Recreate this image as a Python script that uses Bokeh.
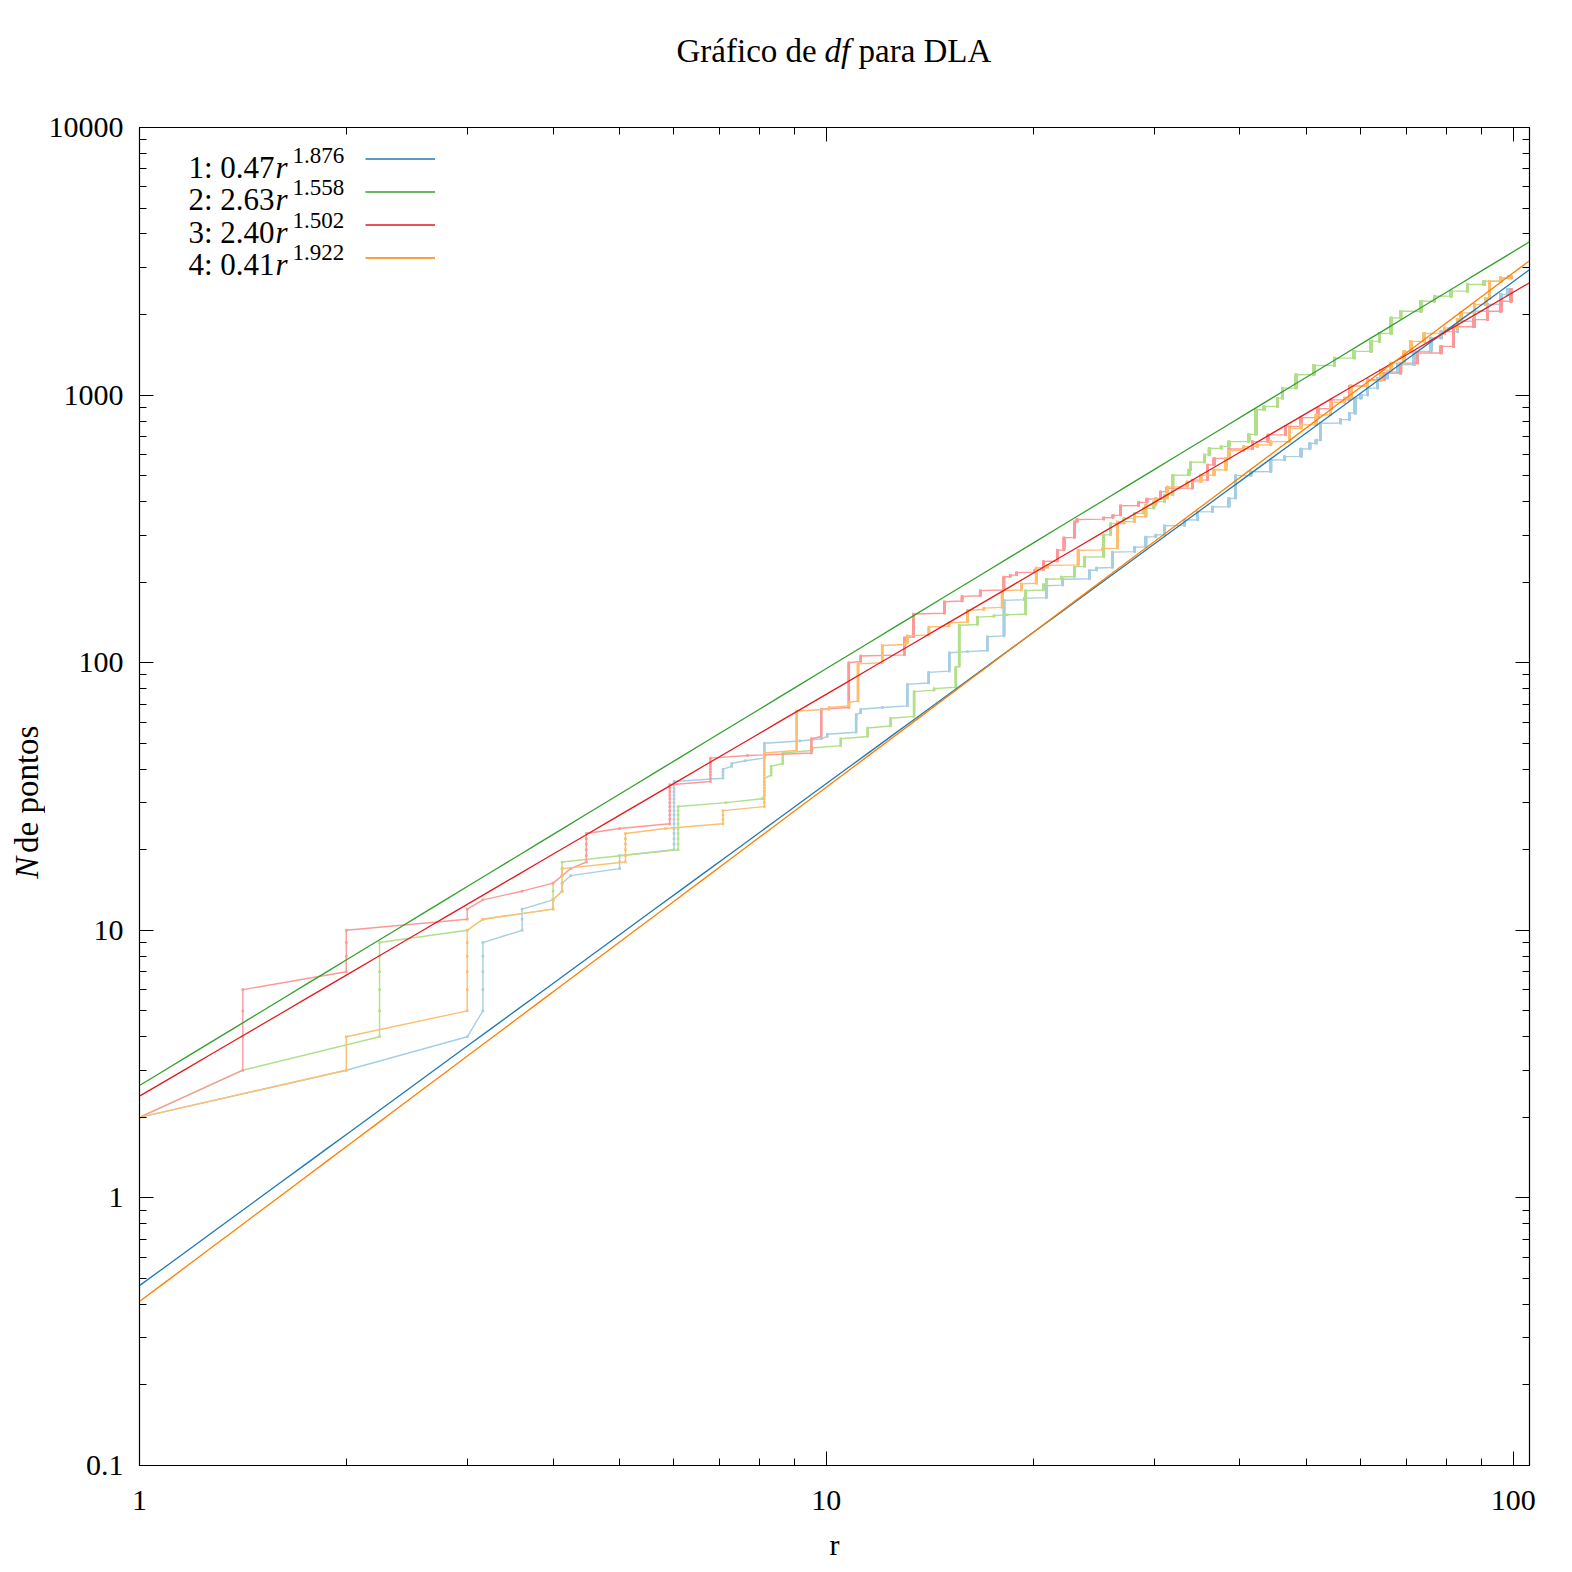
import numpy as np
from bokeh.plotting import figure
from bokeh.layouts import column, row
from bokeh.models import (Range1d, FixedTicker, LogAxis, CustomJSTickFormatter,
                          Label, Legend, LegendItem)
from bokeh.core.properties import value
from bokeh.embed import file_html
from bokeh.resources import INLINE

# ---- data: distinct radii r and cumulative number of points N(r) ----
r1 = [1.0, 2.0, 3.0, 3.162, 3.606, 4.0, 4.123, 4.243, 5.0, 6.0, 7.071, 7.28, 7.616, 8.124,
      9.15, 9.83, 10.03, 11.05, 11.22, 12.07, 13.12, 14.09, 15.10, 16.05, 17.15, 18.14, 19.42,
      20.90, 22.08, 24.15, 24.74, 26.08, 28.09, 29.18, 30.17, 31.06, 33.23, 34.71, 36.48, 38.55,
      39.43, 41.50, 44.36, 46.43, 49.09, 50.56, 51.65, 52.44, 56.08, 57.75, 58.84, 60.01, 61.39,
      63.46, 65.63, 67.89, 71.73, 75.86, 78.52, 82.94, 87.76, 91.79, 95.91, 98.06]
n1 = [2, 3, 4, 9, 12, 13, 15, 16, 19, 36, 40, 42, 43, 50,
      51, 52, 54, 64, 67, 68, 83, 92, 109, 110, 125, 171, 174,
      194, 205, 221, 226, 259, 270, 295, 300, 325, 341, 366, 382, 411,
      500, 517, 572, 589, 629, 660, 679, 785, 810, 855, 973, 1000, 1062,
      1157, 1220, 1299, 1457, 1634, 1725, 1888, 2057, 2181, 2377, 2480]

r2 = [1.0, 1.414, 2.236, 3.0, 3.162, 4.0, 4.123, 5.0, 6.083, 7.14, 8.06, 8.124, 8.31, 8.64,
      9.53, 10.49, 11.48, 12.40, 13.42, 14.35, 15.43, 15.61, 16.59, 17.54, 18.33, 19.51, 20.70,
      20.90, 21.98, 22.97, 23.76, 25.34, 25.93, 27.11, 28.09, 28.98, 29.97, 31.06, 31.94, 33.72,
      33.92, 35.50, 36.09, 37.57, 38.55, 41.21, 42.20, 43.38, 45.35, 46.14, 48.30, 51.25, 54.90,
      58.64, 62.08, 63.86, 66.42, 68.58, 73.41, 76.75, 81.17, 85.79, 90.70, 95.91, 98.54]
n2 = [2, 3, 9, 10, 11, 15, 18, 19, 29, 30, 31, 37, 41, 46,
      48, 52, 57, 62, 78, 80, 96, 138, 148, 150, 151, 186, 196,
      205, 209, 228, 248, 300, 331, 346, 361, 377, 399, 423, 502, 525,
      561, 598, 632, 642, 670, 713, 881, 906, 973, 1062, 1192, 1290, 1375,
      1457, 1588, 1700, 1942, 2057, 2243, 2342, 2446, 2590, 2663, 2740, 2780]

r3 = [1.0, 1.414, 2.0, 3.0, 3.162, 3.606, 4.0, 4.123, 4.243, 4.472, 5.0, 5.916, 6.78, 7.68,
      9.51, 9.83, 10.78, 11.22, 12.99, 13.39, 14.85, 15.76, 16.75, 18.13, 18.53, 18.92, 20.11,
      20.70, 21.69, 22.18, 22.97, 23.17, 25.34, 26.13, 26.82, 28.49, 29.28, 30.66, 31.25, 34.11,
      35.89, 36.68, 38.55, 41.70, 43.97, 46.62, 49.09, 51.94, 54.30, 57.75, 61.39, 64.84, 68.58,
      72.52, 78.52, 81.86, 87.66, 91.79, 95.91, 99.22]
n3 = [2, 6, 10, 12, 13, 14, 15, 16, 17, 23, 24, 35, 44, 45,
      52, 67, 100, 106, 124, 152, 169, 177, 186, 209, 212, 217, 222,
      239, 263, 293, 336, 343, 348, 355, 386, 397, 409, 435, 448, 481,
      548, 580, 629, 670, 710, 763, 824, 889, 960, 1080, 1141, 1207, 1317,
      1436, 1521, 1800, 1915, 2057, 2243, 2481]

r4 = [1.0, 2.0, 3.0, 3.162, 4.0, 4.123, 5.099, 5.83, 7.07, 8.12, 9.05, 10.09, 10.79, 11.12,
      12.06, 13.03, 13.12, 14.10, 15.08, 16.05, 16.95, 18.03, 19.22, 20.21, 20.99, 23.26, 25.24,
      26.52, 28.09, 29.18, 30.17, 31.35, 33.52, 35.10, 36.68, 38.16, 38.55, 40.52, 42.39, 44.36,
      47.21, 49.09, 51.65, 54.21, 56.78, 58.06, 61.39, 64.15, 66.42, 69.37, 70.94, 74.19, 79.40,
      82.94, 83.92, 87.76, 91.20, 92.28, 95.91, 99.22]
n4 = [2, 4, 10, 11, 13, 17, 23, 24, 28, 46, 66, 68, 71, 99,
      116, 118, 126, 136, 141, 157, 160, 186, 197, 226, 231, 263, 267,
      336, 351, 388, 411, 454, 474, 502, 525, 580, 621, 642, 651, 670,
      751, 774, 843, 940, 975, 1083, 1133, 1240, 1317, 1457, 1588, 1700, 1781,
      1915, 2028, 2181, 2300, 2663, 2740, 2780]

# power-law fits N = a * r^b
fit_a = [0.47, 2.63, 2.40, 0.41]
fit_b = [1.876, 1.558, 1.502, 1.922]
fit_a_text = ["0.47", "2.63", "2.40", "0.41"]
fit_b_text = ["1.876", "1.558", "1.502", "1.922"]

x_ticks = [1, 10, 100]
y_ticks = [0.1, 1, 10, 100, 1000, 10000]
X_MIN, X_MAX = 1.0, 105.6
Y_MIN, Y_MAX = 0.1, 10000.0

light = ["#a6cee3", "#b2df8a", "#fb9a99", "#fdbf6f"]
dark = ["#1f78b4", "#33a02c", "#e31a1c", "#ff7f00"]
FONT = "Liberation Serif"

# ---- layout constants (canvas pixels of the whole page) ----
W = H = 1572
LEFT, RIGHT, TOP, BOTTOM = 139, 1529, 127, 1465
TITLE_H = 90          # height of the title strip
YLAB_W = 45           # width of the y-label strip
MAIN_W, MAIN_H = W - YLAB_W, H - TITLE_H

p = figure(width=MAIN_W, height=MAIN_H, x_axis_type="log", y_axis_type="log",
           x_range=Range1d(X_MIN, X_MAX), y_range=Range1d(Y_MIN, Y_MAX),
           output_backend="svg", toolbar_location=None,
           min_border_left=LEFT - YLAB_W, min_border_right=W - RIGHT,
           min_border_top=TOP - TITLE_H, min_border_bottom=H - BOTTOM)
p.xgrid.visible = False
p.ygrid.visible = False
p.outline_line_color = "black"
p.outline_line_width = 1.2
p.background_fill_color = "white"
p.border_fill_color = "white"

x_minor = [m * 10.0 ** d for d in range(0, 3) for m in range(2, 10) if m * 10.0 ** d <= X_MAX]
y_minor = [m * 10.0 ** d for d in range(-1, 4) for m in range(2, 10)]

fmt = CustomJSTickFormatter(code="return Number(tick.toPrecision(6)).toString();")
blank = CustomJSTickFormatter(code="return '';")


def style_axis(ax, ticks, minor, show):
    ax.ticker = FixedTicker(ticks=ticks, minor_ticks=minor)
    ax.major_tick_in = 14
    ax.major_tick_out = 0
    ax.minor_tick_in = 7
    ax.minor_tick_out = 0
    ax.axis_line_color = "black"
    ax.major_tick_line_color = "black"
    ax.minor_tick_line_color = "black"
    if show:
        ax.formatter = fmt
        ax.major_label_text_font = FONT
        ax.major_label_text_font_size = "30px"
        ax.major_label_text_color = "black"
    else:
        ax.formatter = blank
        ax.major_label_text_font_size = "0px"
        ax.major_label_standoff = 0


style_axis(p.xaxis[0], x_ticks, x_minor, True)
p.xaxis[0].major_label_standoff = 25
p.xaxis[0].axis_label = "r"
p.xaxis[0].axis_label_text_font = FONT
p.xaxis[0].axis_label_text_font_style = "normal"
p.xaxis[0].axis_label_text_font_size = "30px"
p.xaxis[0].axis_label_text_color = "black"
p.xaxis[0].axis_label_standoff = 15
style_axis(p.yaxis[0], y_ticks, y_minor, True)
p.yaxis[0].major_label_standoff = 16

top_ax = LogAxis()
style_axis(top_ax, x_ticks, x_minor, False)
p.add_layout(top_ax, "above")
right_ax = LogAxis()
style_axis(right_ax, y_ticks, y_minor, False)
p.add_layout(right_ax, "right")


# ---- data series ----
def build(r, n, n0=1):
    vx, vy, mx, my = [], [], [], []
    prev = n0
    for rr, nn in zip(r, n):
        vx += [rr, rr]
        vy += [prev + 1, nn]
        ks = np.arange(prev + 1, nn + 1)
        mx.append(np.full(len(ks), rr))
        my.append(ks)
        prev = nn
    return vx, vy, np.concatenate(mx), np.concatenate(my)


for r, n, c in zip([r1, r2, r3, r4], [n1, n2, n3, n4], light):
    vx, vy, mx, my = build(r, n)
    p.line(vx, vy, line_color=c, line_width=1.4)
    p.scatter(mx, my, marker="square", size=2.6, fill_color=c, line_color=None)

fit_renderers = []
rr = np.geomspace(X_MIN, X_MAX, 60)
for a, b, c in zip(fit_a, fit_b, dark):
    fit_renderers.append(p.line(rr, a * rr ** b, line_color=c, line_width=1.3))

# legend sample lines (glyphs only, text drawn separately as labels)
legend = Legend(items=[LegendItem(label="", renderers=[fr]) for fr in fit_renderers],
                location=(365 - LEFT, BOTTOM - 268), orientation="vertical",
                glyph_width=70, glyph_height=21, spacing=12, padding=0, margin=0,
                label_width=0, label_standoff=0, label_text_font_size="1px",
                background_fill_alpha=0, border_line_alpha=0)
p.add_layout(legend)


def lab(fig, text, x, y, size="30px", style="normal", align="left",
        baseline="alphabetic"):
    fig.add_layout(Label(x=x, y=y, x_units="screen", y_units="screen",
                         text=text, text_font=FONT, text_font_size=size,
                         text_font_style=style, text_align=align,
                         text_baseline=baseline, text_color="black"))


# legend texts (inside the plot frame; coordinates relative to frame bottom-left)
for i in range(4):
    Yb = 167 + 32.4 * i
    lab(p, f"{i + 1}: {fit_a_text[i]}", 188 - LEFT, BOTTOM - Yb, size="31px")
    lab(p, "r", 275 - LEFT, BOTTOM - Yb, size="31px", style="italic")
    lab(p, fit_b_text[i], 292 - LEFT, BOTTOM - (Yb - 12), size="23px")


def strip(w, h):
    f = figure(width=w, height=h, x_axis_type=None, y_axis_type=None,
               x_range=Range1d(0, w), y_range=Range1d(0, h),
               output_backend="svg", toolbar_location=None,
               min_border=0, outline_line_color=None)
    f.background_fill_color = "white"
    f.border_fill_color = "white"
    return f


# title strip
title_fig = strip(W, TITLE_H)
lab(title_fig, "Gráfico de", 676, TITLE_H - 50, size="33px")
lab(title_fig, "df", 824, TITLE_H - 50, size="33px", style="italic")
lab(title_fig, "para DLA", 858, TITLE_H - 50, size="33px")

# y-label strip (rotated text glyphs, centre-anchored)
YSHIFT = 38   # empirical correction of the rotated-text placement
ylab_fig = strip(YLAB_W, MAIN_H)
ylab_fig.text(x=[26], y=[H - 872 - YSHIFT], text=["N"], angle=np.pi / 2,
              text_align="center", text_baseline="middle",
              text_font=value(FONT), text_font_style="italic",
              text_font_size="33px", text_color="black")
ylab_fig.text(x=[26], y=[H - 785 - YSHIFT], text=["de pontos"], angle=np.pi / 2,
              text_align="center", text_baseline="middle",
              text_font=value(FONT), text_font_size="33px", text_color="black")

layout = column(title_fig, row(ylab_fig, p, spacing=0), spacing=0)

open("out.html", "w").write(file_html(layout, INLINE))
